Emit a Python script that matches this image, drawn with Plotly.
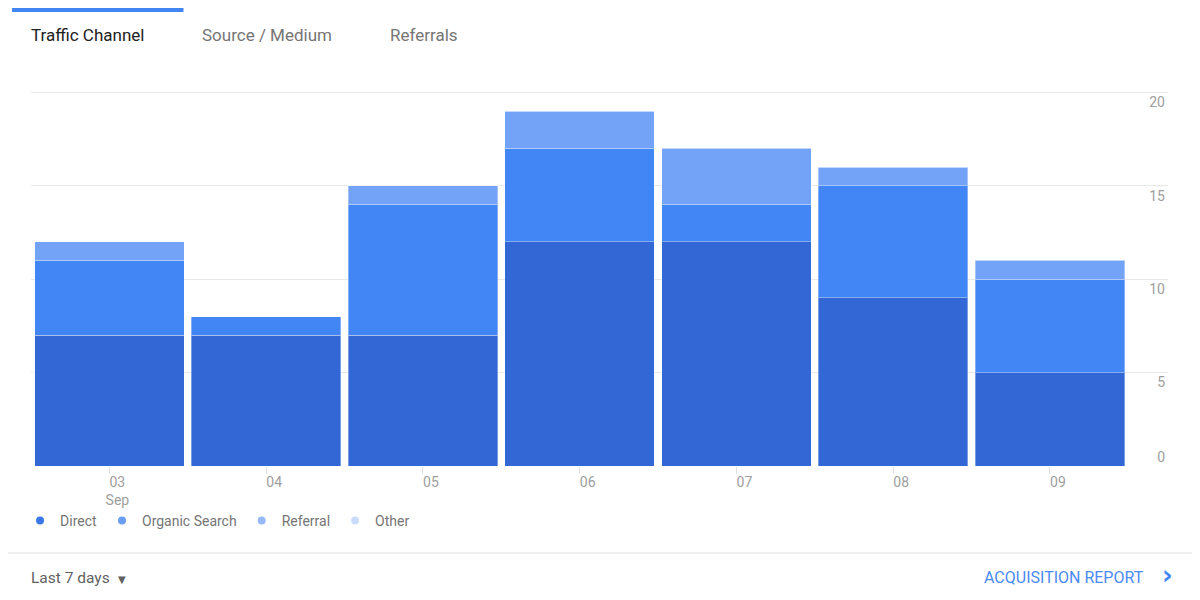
import plotly.graph_objects as go

# ---------------------------------------------------------------------------
# Data
# ---------------------------------------------------------------------------
DAYS = ["03", "04", "05", "06", "07", "08", "09"]
DAY_LABELS = ["03<br>Sep", "04", "05", "06", "07", "08", "09"]
DIRECT = [7, 7, 7, 12, 12, 9, 5]
ORGANIC = [4, 1, 7, 5, 2, 6, 5]
REFERRAL = [1, 0, 1, 2, 3, 1, 1]
OTHER = [0, 0, 0, 0, 0, 0, 0]

CHANNELS = ["Direct", "Organic Search", "Referral", "Other"]
BAR_COLORS = ["#3367d6", "#4285f4", "#72a3f7", "#c6dafc"]
DOT_COLORS = ["#3b78e7", "#6a9ef5", "#96baf8", "#cadcfc"]
Y_TICKS = [5, 10, 15, 20]
Y_BASE_TICK = [0]

# plot area in page pixels (page has an 8px body margin)
_OFF = 8
_L, _R, _T, _B = 27, 1168, 83, 466
_W, _H = _R - _L, _B - _T


def px(x):
    return (x - _L) / _W


def py(y):
    return (_B - y) / _H


fig = go.Figure()

x_pos = list(range(len(DAYS)))
for name, vals, col in zip(CHANNELS, [DIRECT, ORGANIC, REFERRAL, OTHER], BAR_COLORS):
    fig.add_trace(go.Bar(
        x=x_pos, y=vals, name=name, showlegend=False,
        marker=dict(color=col, line=dict(color="rgba(255,255,255,0.35)", width=1)),
        hoverinfo="y+name",
    ))

# legend entries as dots (on the overlay axis so it gets drawn)
for name, col in zip(CHANNELS, DOT_COLORS):
    fig.add_trace(go.Scatter(
        x=[None], y=[None], mode="markers", name=name, yaxis="y2",
        marker=dict(color=col, size=8, symbol="circle"),
    ))

tick_font = dict(family="Roboto", size=14, color="#9e9e9e")

fig.update_layout(
    width=1200, height=600,
    margin=dict(l=_L - _OFF, r=1200 - (_R - _OFF), t=_T - _OFF, b=600 - (_B - _OFF)),
    paper_bgcolor="white", plot_bgcolor="white",
    barmode="stack", bargap=0.046,
    font=dict(family="Roboto", size=14, color="#9e9e9e"),
    showlegend=True,
    legend=dict(
        orientation="h", traceorder="normal",
        x=px(16), y=py(521), xanchor="left", yanchor="middle",
        font=dict(family="Roboto", size=14, color="#757575"), itemwidth=30,
        bgcolor="rgba(0,0,0,0)",
    ),
    xaxis=dict(
        range=[-0.5, 6.753], tickmode="array", tickvals=x_pos, ticktext=DAY_LABELS,
        showgrid=False, zeroline=False, showline=False,
        ticks="outside", ticklen=7, tickcolor="#e0e0e0", tickwidth=1,
        tickfont=tick_font, ticklabelshift=8, ticklabelstandoff=-4,
    ),
    yaxis=dict(
        range=[0, 20.5], side="right", tickmode="array", tickvals=Y_TICKS + Y_BASE_TICK,
        ticktext=[str(v) for v in Y_TICKS] + [""],
        showgrid=True, gridcolor="#e8e8e8", gridwidth=1, zeroline=False,
        ticklabelposition="inside", ticklabelshift=10,
        tickfont=tick_font,
    ),
    yaxis2=dict(
        range=[0, 20.5], side="right", overlaying="y", tickmode="array",
        tickvals=Y_BASE_TICK, showgrid=False, zeroline=False,
        ticklabelposition="inside", ticklabelshift=-9,
        tickfont=tick_font,
    ),
)

# top tab indicator and footer separator
fig.add_shape(type="rect", xref="paper", yref="paper",
              x0=px(_OFF), x1=px(172 + _OFF), y0=py(_OFF + 4), y1=py(_OFF),
              fillcolor="#4285f4", line=dict(width=0))
fig.add_shape(type="line", xref="paper", yref="paper",
              x0=px(0), x1=px(1210), y0=py(553), y1=py(553),
              line=dict(color="#e0e0e0", width=1))

texts = [
    ("Traffic Channel", 26, 35, "left", 17, "#212121"),
    ("Source / Medium", 198, 35, "left", 17, "#757575"),
    ("Referrals", 386, 35, "left", 17, "#757575"),
    ("Last 7 days", 26, 578, "left", 15.5, "#616161"),
    ("ACQUISITION REPORT", 1145, 577, "right", 16, "#4a8af4"),
]
for txt, x, y, anchor, size, color in texts:
    fig.add_annotation(text=txt, xref="paper", yref="paper", x=px(x), y=py(y),
                       xanchor=anchor, yanchor="middle", showarrow=False, borderpad=0,
                       font=dict(family="Roboto", size=size, color=color))

fig.add_annotation(text="▼", xref="paper", yref="paper", x=px(112), y=py(579),
                   xanchor="left", yanchor="middle", showarrow=False,
                   font=dict(family="DejaVu Sans", size=10, color="#616161"))
fig.add_annotation(text="<b>›</b>", xref="paper", yref="paper", x=px(1160), y=py(575),
                   xanchor="left", yanchor="middle", showarrow=False,
                   font=dict(family="DejaVu Sans", size=26, color="#4285f4"))

fig.write_html("out.html")
